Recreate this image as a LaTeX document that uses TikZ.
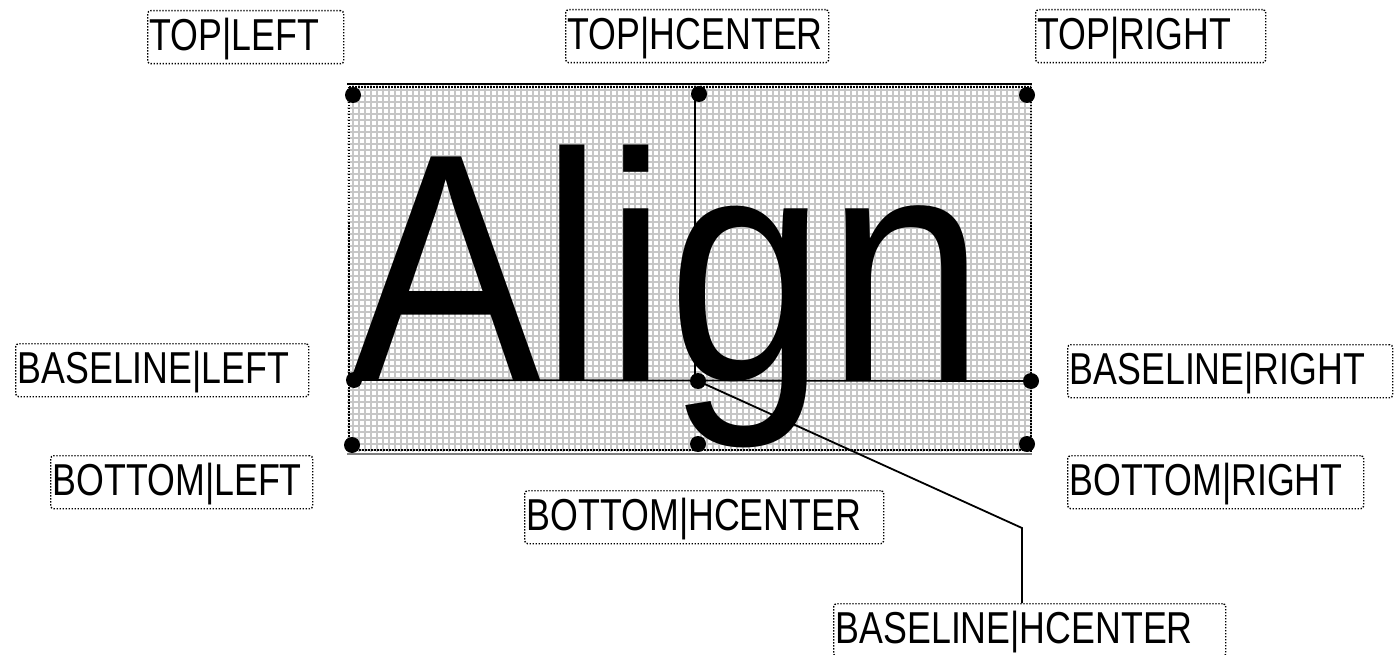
\documentclass[tikz,border=0pt]{standalone}
\usepackage{fontspec}
\setmainfont{Liberation Sans}
\usetikzlibrary{calc}
\definecolor{gridgray}{RGB}{198,198,198}
\tikzset{
  lab/.style={draw=black, line width=1.4pt, dash pattern=on 1.4pt off 1.6pt,
    rounded corners=3pt, anchor=north west, inner xsep=2pt, inner ysep=0pt,
    text height=40pt, text depth=13pt, align=left,
    font=\fontsize{44.7}{50}\selectfont},
  dotpt/.style={circle, fill=black, inner sep=0pt, minimum size=16pt},
  conn/.style={line width=1.8pt, black},
  gridline/.style={line width=1.4pt, gridgray},
  dotb/.style={line width=1.6pt, black, dash pattern=on 1.5pt off 1.5pt},
}
\newcommand{\lt}[1]{\scalebox{0.8}[1]{#1}}
\begin{document}
\begin{tikzpicture}[x=1pt,y=-1pt]
\useasboundingbox (0,0) rectangle (1395,655);
\fill[white] (0,0) rectangle (1395,655);
% grid area
\foreach \x in {353,359,...,1031} \draw[gridline] (\x,84) -- (\x,452);
\foreach \y in {90,96,...,450} \draw[gridline] (347,\y) -- (1032,\y);
% borders
\draw[line width=2.5pt] (347,84) -- (1032,84);
\draw[dotb] (349,87) -- (1031,87);
\draw[dotb] (349,84) -- (349,452);
\draw[dotb] (1031,84) -- (1031,452);
\draw[dotb] (347,450) -- (1032,450);
\draw[line width=1.6pt, gray] (347,454) -- (1032,454);
% big text
\node[inner sep=0pt, anchor=base west, font=\fontsize{325}{325}\selectfont] (align) at (350,380) {\scalebox{0.88}[1]{Align}};
% anchor points
\coordinate (pTL) at (353,95);
\coordinate (pTC) at (699,94);
\coordinate (pTR) at (1027,95);
\coordinate (pBL) at (354,380);
\coordinate (pBC) at (698,381);
\coordinate (pBR) at (1031,381);
\coordinate (pDL) at (352,445);
\coordinate (pDC) at (698,444);
\coordinate (pDR) at (1027,444);
\coordinate (vtop) at (695,94);
\coordinate (kink) at (1022,528);
% labels
\node[lab, text width=192pt] (tl) at (147,10) {\lt{TOP|LEFT}};
\node[lab, text width=259pt] (tc) at (565,9) {\lt{TOP|HCENTER}};
\node[lab, text width=226pt] (tr) at (1035,9) {\lt{TOP|RIGHT}};
\node[lab, text width=289pt] (bl) at (15,343) {\lt{BASELINE|LEFT}};
\node[lab, text width=258pt] (dl) at (50,455) {\lt{BOTTOM|LEFT}};
\node[lab, text width=321pt] (br) at (1067,344) {\lt{BASELINE|RIGHT}};
\node[lab, text width=292pt] (dr) at (1067,455) {\lt{BOTTOM|RIGHT}};
\node[lab, text width=355pt] (dc) at (524,490) {\lt{BOTTOM|HCENTER}};
\node[lab, text width=388pt] (bhc) at (833,603) {\lt{BASELINE|HCENTER}};
% lines
\draw[conn] (vtop) -- (vtop |- pBC);
\draw[conn] (pBL) -- (pBR);
\draw[conn] (pBC) -- (kink) -- (kink |- bhc.north);
% dots
\foreach \p in {pTL,pTC,pTR,pBL,pBC,pBR,pDL,pDC,pDR}
  \node[dotpt] at (\p) {};
\end{tikzpicture}
\end{document}
